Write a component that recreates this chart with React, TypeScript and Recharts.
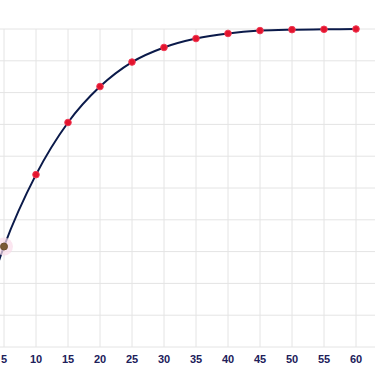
import React from "react";
import { LineChart, Line, XAxis, YAxis, CartesianGrid } from "recharts";

const xValues = [0, 5, 10, 15, 20, 25, 30, 35, 40, 45, 50, 55, 60];
const yValues = [0, 31.6, 54.2, 70.6, 81.9, 89.6, 94.2, 97.0, 98.6, 99.5, 99.8, 99.9, 100];
const xTicks = [0, 5, 10, 15, 20, 25, 30, 35, 40, 45, 50, 55, 60];
const yTicks = [0, 5, 10, 15, 20, 25, 30, 35, 40, 45, 50, 55, 60, 65, 70, 75, 80, 85, 90, 95, 100];
const highlightedX = 5;

const data = xValues.map((x, i) => ({ x, y: yValues[i] }));

const renderDot = (props: any) => {
  const { cx, cy, payload, index } = props;
  if (payload.x === 0) return <g key={`d${index}`} />;
  if (payload.x === highlightedX) {
    return (
      <g key={`d${index}`}>
        <circle cx={cx} cy={cy} r={9} fill="#f9dcea" fillOpacity={0.7} />
        <circle cx={cx} cy={cy} r={3.5} fill="#7a5a36" stroke="#6b4e2e" strokeWidth={1} />
      </g>
    );
  }
  return <circle key={`d${index}`} cx={cx} cy={cy} r={3.3} fill="#e3142d" stroke="#f03a55" strokeWidth={1} />;
};

export default function App() {
  return (
    <div style={{ position: "fixed", left: 0, top: 0, width: 375, height: 366, overflow: "hidden", background: "#fff" }}>
      <div style={{ position: "absolute", left: -28, top: 0 }}>
        <LineChart width={416} height={366} data={data} margin={{ top: 29, right: 0, bottom: 0, left: 0 }}>
          <CartesianGrid stroke="#e4e4e4" strokeWidth={1} horizontal vertical />
          <XAxis
            dataKey="x"
            type="number"
            domain={[0, 65]}
            ticks={xTicks}
            height={19}
            axisLine={false}
            tickLine={false}
            interval={0}
            tick={{ fill: "#20205a", fontSize: 11, fontWeight: "bold", fontFamily: "Liberation Sans, Arial, sans-serif" }}
          />
          <YAxis hide type="number" domain={[0, 100]} ticks={yTicks} />
          <Line
            type="monotone"
            dataKey="y"
            stroke="#0b1a4a"
            strokeWidth={2}
            dot={renderDot}
            activeDot={false}
            isAnimationActive={false}
          />
        </LineChart>
      </div>
    </div>
  );
}
